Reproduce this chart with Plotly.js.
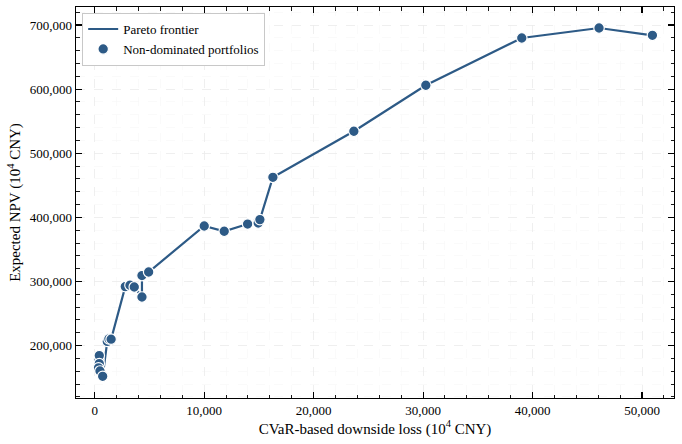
<!DOCTYPE html>
<html>
<head>
<meta charset="utf-8">
<script src="https://cdn.plot.ly/plotly-3.0.1.min.js"></script>
<style>
  html, body { margin: 0; padding: 0; background: #ffffff; }
  #chart { width: 682px; height: 444px; }
</style>
</head>
<body>
<div id="chart"></div>
<script>
// CVaR-based downside loss (10^4 CNY) of each non-dominated portfolio, sorted ascending
const cvarLoss = [
  393, 420, 420, 350, 484, 730,
  1150, 1300, 1500,
  2794, 3223, 3616, 4319, 4319, 4931,
  10007, 11833, 13970, 14938, 15093,
  16280, 23676, 30250, 39016, 46074, 50950
];
// Expected NPV (10^4 CNY) of the same portfolios
const expectedNpv = [
  178200, 184400, 171900, 165400, 160400, 152100,
  206500, 210500, 210000,
  292000, 294100, 291400, 275800, 309200, 314800,
  386500, 378300, 389600, 391200, 396500,
  462500, 534300, 606000, 679700, 695300, 683900
];

const seriesNames = ['Pareto frontier', 'Non-dominated portfolios'];
const xTitle = 'CVaR-based downside loss (10<sup>4</sup> CNY)';
const yTitle = 'Expected NPV (10<sup>4</sup> CNY)';

const blue = '#2d5a86';
const serif = '"Liberation Serif", "Times New Roman", serif';

const traces = [
  {
    x: cvarLoss, y: expectedNpv,
    type: 'scatter', mode: 'lines',
    name: seriesNames[0],
    line: { color: blue, width: 2.2 },
    hoverinfo: 'skip'
  },
  {
    x: cvarLoss, y: expectedNpv,
    type: 'scatter', mode: 'markers',
    name: seriesNames[1],
    marker: { color: blue, size: 10.5, line: { color: '#ffffff', width: 1.2 } }
  }
];

function minorStyle(step) {
  return {
    dtick: step, ticks: 'inside', ticklen: 3.5, tickwidth: 0.9, tickcolor: '#000000',
    showgrid: true, gridcolor: '#f6f6f6', griddash: 'dash', gridwidth: 0.6
  };
}

function axisStyle(extra) {
  return Object.assign({
    showline: true, linecolor: '#000000', linewidth: 1.3, mirror: 'allticks',
    ticks: 'inside', ticklen: 6, tickwidth: 1.1, tickcolor: '#000000',
    showgrid: true, gridcolor: '#ebebeb', griddash: 'dash', gridwidth: 0.8,
    zeroline: false,
    tickfont: { family: serif, size: 13, color: '#000000' },
    tickformat: ',d'
  }, extra);
}

const layout = {
  width: 682, height: 444,
  margin: { l: 76, r: 8, t: 7, b: 46 },
  paper_bgcolor: '#ffffff', plot_bgcolor: '#ffffff',
  font: { family: serif, color: '#000000' },
  showlegend: true,
  legend: {
    x: 0.01, y: 0.985, xanchor: 'left', yanchor: 'top',
    bgcolor: '#ffffff', bordercolor: '#c8c8c8', borderwidth: 1.2,
    font: { family: serif, size: 13, color: '#000000' },
    tracegroupgap: 0
  },
  xaxis: axisStyle({
    range: [-1707, 52922], dtick: 10000, tick0: 0,
    title: { text: xTitle, font: { family: serif, size: 15 }, standoff: 6 },
    minor: minorStyle(2000)
  }),
  yaxis: axisStyle({
    range: [118280, 728070], dtick: 100000, tick0: 0,
    title: { text: yTitle, font: { family: serif, size: 15 }, standoff: 5 },
    minor: minorStyle(20000)
  })
};

Plotly.newPlot('chart', traces, layout, { displayModeBar: false, staticPlot: true });
</script>
</body>
</html>
